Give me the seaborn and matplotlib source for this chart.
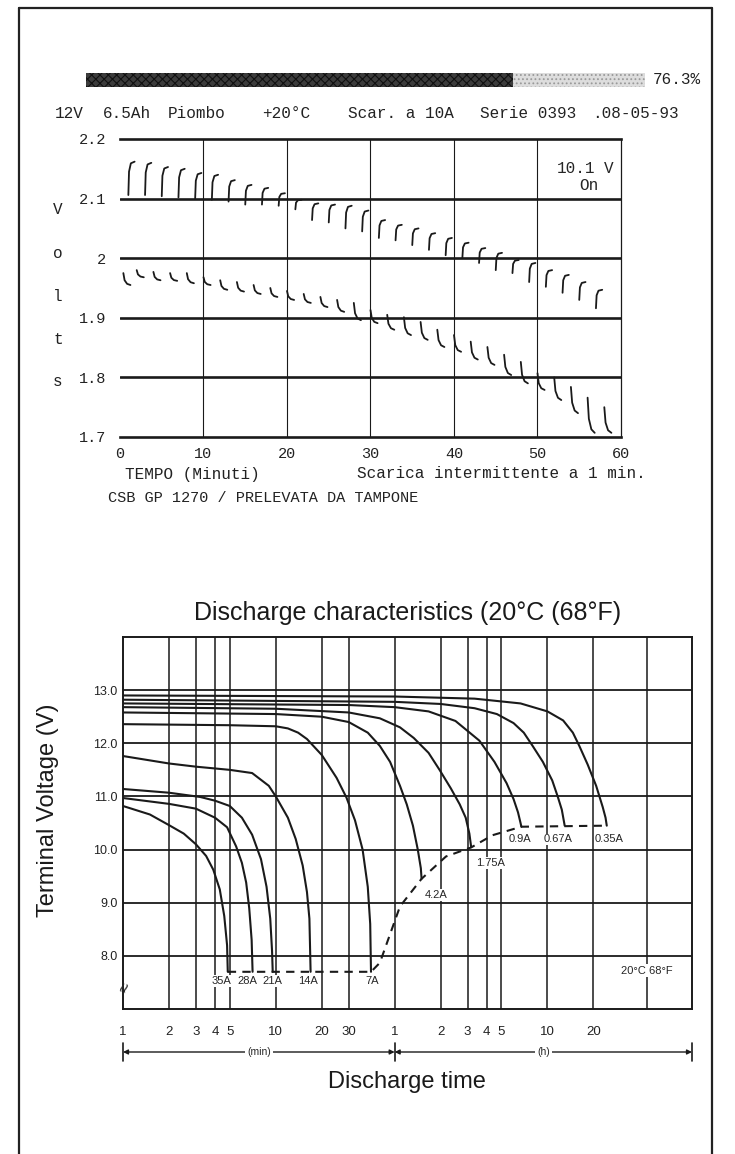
import numpy as np
import pandas as pd
import matplotlib.pyplot as plt
import seaborn as sns
from matplotlib.patches import Rectangle
from matplotlib.lines import Line2D

sns.set_theme(style="white")
plt.rcParams['font.family'] = ['Liberation Sans', 'DejaVu Sans']
MONO = ['Liberation Mono', 'DejaVu Sans Mono']

W, H = 735, 1154


def fx(x):
    return x / W


def fy(y):
    return 1 - y / H


# ---------------- top chart: intermittent discharge, 1 min on / 1 min off
header = ['12V', '6.5Ah', 'Piombo', '+20°C', 'Scar. a 10A', 'Serie 0393', '.08-05-93']
charge_pct = 76.3

# rest (off-load) recovery marks
rest_t = [1, 3, 5, 7, 9, 11, 13, 15, 17, 19, 21, 23, 25, 27, 29,
          31, 33, 35, 37, 39, 41, 43, 45, 47, 49, 51, 53, 55, 57]
rest_top = [2.162, 2.160, 2.153, 2.150, 2.143, 2.140, 2.131, 2.123, 2.118, 2.109,
            2.098, 2.092, 2.090, 2.088, 2.080, 2.064, 2.056, 2.050, 2.042, 2.034,
            2.026, 2.017, 2.009, 1.997, 1.992, 1.980, 1.972, 1.960, 1.947]
rest_bot = [2.106, 2.106, 2.104, 2.102, 2.100, 2.098, 2.095, 2.090, 2.090, 2.088,
            2.082, 2.064, 2.060, 2.050, 2.045, 2.034, 2.030, 2.022, 2.014, 2.005,
            2.000, 1.992, 1.980, 1.975, 1.960, 1.952, 1.942, 1.930, 1.916]

# on-load marks
load_t = [0.4, 2, 4, 6, 8, 10, 12, 14, 16, 18, 20, 22, 24, 26, 28,
          30, 32, 34, 36, 38, 40, 42, 44, 46, 48, 50, 52, 54, 56, 58]
load_top = [1.975, 1.980, 1.977, 1.975, 1.975, 1.968, 1.963, 1.960, 1.955, 1.950,
            1.945, 1.940, 1.935, 1.930, 1.925, 1.913, 1.905, 1.901, 1.893, 1.880,
            1.871, 1.860, 1.851, 1.838, 1.826, 1.807, 1.800, 1.784, 1.766, 1.750]
load_bot = [1.955, 1.968, 1.963, 1.962, 1.958, 1.955, 1.947, 1.944, 1.940, 1.935,
            1.930, 1.925, 1.918, 1.910, 1.896, 1.891, 1.880, 1.871, 1.863, 1.851,
            1.843, 1.830, 1.821, 1.804, 1.790, 1.779, 1.762, 1.740, 1.707, 1.707]

top_xticks = [0, 10, 20, 30, 40, 50, 60]
top_yticks = [1.7, 1.8, 1.9, 2.0, 2.1, 2.2]
top_ylabels = ['1.7', '1.8', '1.9', '2', '2.1', '2.2']

# ---------------- bottom chart: discharge characteristics
t_35A = [1, 1.5, 2, 2.5, 3, 3.5, 3.9, 4.3, 4.6, 4.8, 4.85]
v_35A = [10.82, 10.66, 10.46, 10.30, 10.10, 9.88, 9.62, 9.25, 8.75, 8.2, 7.7]
t_28A = [1, 2, 3, 4, 4.8, 5.5, 6.0, 6.4, 6.7, 6.95, 7.05]
v_28A = [10.97, 10.86, 10.77, 10.60, 10.42, 10.06, 9.75, 9.38, 8.9, 8.3, 7.7]
t_21A = [1, 2, 3.2, 4, 5, 6, 7, 8, 8.7, 9.2, 9.45, 9.55]
v_21A = [11.14, 11.07, 10.99, 10.92, 10.82, 10.60, 10.28, 9.82, 9.3, 8.7, 8.1, 7.7]
t_14A = [1, 2, 3, 5, 7, 9, 10, 12, 13.5, 15, 16, 16.6, 16.9]
v_14A = [11.76, 11.62, 11.56, 11.50, 11.44, 11.20, 11.0, 10.6, 10.2, 9.7, 9.2, 8.7, 7.7]
t_7A = [1, 5, 10, 12, 14, 16, 20, 25, 29, 33, 37, 40, 41.5, 42]
v_7A = [12.36, 12.34, 12.32, 12.28, 12.20, 12.08, 11.78, 11.35, 10.98, 10.55, 10.0, 9.3, 8.6, 7.7]
t_4A2 = [1, 10, 20, 30, 40, 48, 56, 65, 72, 79, 85, 89, 90]
v_4A2 = [12.58, 12.55, 12.50, 12.40, 12.20, 11.95, 11.65, 11.20, 10.85, 10.45, 10.0, 9.65, 9.45]
t_1A75 = [1, 10, 30, 48, 65, 80, 100, 118, 140, 160, 175, 185, 190]
v_1A75 = [12.68, 12.65, 12.58, 12.47, 12.30, 12.10, 11.82, 11.50, 11.15, 10.85, 10.6, 10.3, 10.05]
t_0A9 = [1, 30, 60, 100, 150, 215, 270, 324, 360, 385, 400, 405]
v_0A9 = [12.75, 12.72, 12.68, 12.60, 12.42, 12.05, 11.65, 11.25, 10.95, 10.7, 10.5, 10.43]
t_0A67 = [1, 60, 120, 200, 280, 360, 420, 480, 560, 645, 700, 745, 778]
v_0A67 = [12.82, 12.78, 12.74, 12.66, 12.55, 12.38, 12.20, 11.95, 11.65, 11.3, 11.0, 10.75, 10.45]
t_0A35 = [1, 60, 200, 400, 600, 760, 880, 970, 1100, 1250, 1380, 1440, 1467]
v_0A35 = [12.90, 12.88, 12.84, 12.75, 12.60, 12.43, 12.20, 11.95, 11.6, 11.2, 10.8, 10.6, 10.45]

# final-voltage (dashed) line
end_t = [4.85, 42, 48, 65, 90, 130, 190, 262, 405, 1467]
end_v = [7.7, 7.7, 7.87, 8.93, 9.45, 9.87, 10.04, 10.27, 10.43, 10.45]

current_names = ['35A', '28A', '21A', '14A', '7A', '4.2A', '1.75A', '0.9A', '0.67A', '0.35A']
label_t = [4.38, 6.56, 9.55, 16.2, 43, 112, 254, 394, 704, 1519]
label_v = [7.53, 7.53, 7.53, 7.53, 7.53, 9.15, 9.75, 10.19, 10.19, 10.19]

bot_xticks = [1, 2, 3, 4, 5, 10, 20, 30, 60, 120, 180, 240, 300, 600, 1200]
bot_xlabels = ['1', '2', '3', '4', '5', '10', '20', '30', '1', '2', '3', '4', '5', '10', '20']
bot_vgrid = [2, 3, 4, 5, 10, 20, 30, 60, 120, 180, 240, 300, 600, 1200, 2700]
bot_yticks = [8, 9, 10, 11, 12, 13]

# ---------------------------------------------------------------- figure
fig = plt.figure(figsize=(W / 100, H / 100), dpi=100)

# page frame
for xs, ys in [([19, 19], [8, H]), ([19, 712], [8, 8]), ([712, 712], [8, H])]:
    fig.add_artist(Line2D([fx(v) for v in xs], [fy(v) for v in ys], color='#222222', lw=1.6))

# charge bar
plt.rcParams['hatch.linewidth'] = 0.8
bar_x0, bar_x1 = 86, 645
bar_split = bar_x0 + (bar_x1 - bar_x0) * charge_pct / 100
fig.add_artist(Rectangle((fx(bar_x0), fy(87)), (bar_split - bar_x0) / W, 14 / H,
                         facecolor='#3c3c3c', edgecolor='#111111', hatch='xxxx', lw=0))
fig.add_artist(Rectangle((fx(bar_split), fy(87)), (bar_x1 - bar_split) / W, 14 / H,
                         facecolor='#dddddd', edgecolor='#999999', hatch='....', lw=0))
fig.text(fx(653), fy(80), f'{charge_pct}%', family=MONO, fontsize=11.5, va='center', color='#222222')

header_x = [55, 103, 168, 262, 348, 480, 592]
for s, x in zip(header, header_x):
    fig.text(fx(x), fy(113), s, family=MONO, fontsize=11.5, va='center', color='#222222')

# top axes
ax1 = fig.add_axes([fx(120), fy(437), (621 - 120) / W, (437 - 139) / H])
rows = []
for i, (t, top, bot) in enumerate(zip(rest_t, rest_top, rest_bot)):
    h = top - bot
    for dx, f in [(0, 0), (0.08, 0.7), (0.3, 0.95), (0.75, 1.0)]:
        rows.append(dict(hook=f'r{i}', t=t + dx, v=bot + f * h))
for i, (t, top, bot) in enumerate(zip(load_t, load_top, load_bot)):
    h = top - bot
    for dx, f in [(0, 0), (0.15, 0.6), (0.45, 0.9), (0.85, 1.0)]:
        rows.append(dict(hook=f'l{i}', t=t + dx, v=top - f * h))
hooks = pd.DataFrame(rows)
sns.lineplot(data=hooks, x='t', y='v', units='hook', estimator=None, sort=False,
             color='#1a1a1a', lw=1.3, ax=ax1)
ax1.set_xlim(0, 60)
ax1.set_ylim(1.7, 2.2)
for y in top_yticks[1:-1]:
    ax1.axhline(y, color='#1a1a1a', lw=1.9, zorder=1)
for x in top_xticks[1:-1]:
    ax1.axvline(x, color='#1a1a1a', lw=0.8, zorder=1)
ax1.spines['left'].set_visible(False)
ax1.spines['top'].set_linewidth(1.9)
ax1.spines['bottom'].set_linewidth(1.9)
ax1.spines['right'].set_linewidth(0.9)
for sp in ax1.spines.values():
    sp.set_color('#1a1a1a')
ax1.set_xticks(top_xticks)
ax1.set_xticklabels([str(v) for v in top_xticks], family=MONO, fontsize=11)
ax1.set_yticks(top_yticks)
ax1.set_yticklabels(top_ylabels, family=MONO, fontsize=11)
ax1.tick_params(length=0, colors='#222222')
ax1.tick_params(axis='x', pad=7)
ax1.tick_params(axis='y', pad=10)
ax1.set_xlabel('')
ax1.set_ylabel('')
ax1.text(0.91, 0.9, '10.1', transform=ax1.transAxes, family=MONO, fontsize=11.5, ha='center', va='center')
ax1.text(0.975, 0.9, 'V', transform=ax1.transAxes, family=MONO, fontsize=11.5, ha='center', va='center')
ax1.text(0.935, 0.845, 'On', transform=ax1.transAxes, family=MONO, fontsize=11.5, ha='center', va='center')

for ch, y in zip('Volts', [210, 253, 296, 339, 382]):
    fig.text(fx(58), fy(y), ch, family=MONO, fontsize=11.5, ha='center', va='center', color='#222222')
fig.text(fx(125), fy(474), 'TEMPO (Minuti)', family=MONO, fontsize=11.5, va='center', color='#222222')
fig.text(fx(357), fy(474), 'Scarica intermittente a 1 min.', family=MONO, fontsize=11.5, va='center', color='#222222')
fig.text(fx(108), fy(498), 'CSB GP 1270 / PRELEVATA DA TAMPONE', family=MONO, fontsize=11, va='center', color='#222222')

# bottom axes
ax2 = fig.add_axes([fx(123), fy(1009), (692 - 123) / W, (1009 - 637) / H])
curves = [(t_35A, v_35A), (t_28A, v_28A), (t_21A, v_21A), (t_14A, v_14A), (t_7A, v_7A),
          (t_4A2, v_4A2), (t_1A75, v_1A75), (t_0A9, v_0A9), (t_0A67, v_0A67), (t_0A35, v_0A35)]
df = pd.concat([pd.DataFrame({'t': t, 'V': v, 'current': name})
                for name, (t, v) in zip(current_names, curves)], ignore_index=True)
sns.lineplot(data=df, x='t', y='V', units='current', estimator=None, sort=False,
             color='#1a1a1a', lw=1.5, ax=ax2, zorder=3)
sns.lineplot(x=end_t, y=end_v, color='#1a1a1a', lw=1.5, linestyle=(0, (4, 3)),
             estimator=None, sort=False, ax=ax2, zorder=3)
ax2.set_xscale('log')
ax2.set_xlim(1, 5300)
ax2.set_ylim(7, 14)
for x in bot_vgrid:
    ax2.axvline(x, color='#1a1a1a', lw=1.1, zorder=1)
for y in bot_yticks:
    ax2.axhline(y, color='#1a1a1a', lw=1.3, zorder=1)
for sp in ax2.spines.values():
    sp.set_linewidth(1.4)
    sp.set_color('#1a1a1a')
ax2.set_xticks(bot_xticks)
ax2.set_xticklabels(bot_xlabels, fontsize=9.5)
ax2.minorticks_off()
ax2.set_yticks(bot_yticks)
ax2.set_yticklabels([f'{v:.1f}' for v in bot_yticks], fontsize=9)
ax2.tick_params(length=0, colors='#222222')
ax2.tick_params(axis='x', pad=12)
ax2.tick_params(axis='y', pad=4)
ax2.set_xlabel('')
ax2.set_ylabel('')

for name, t, v in zip(current_names, label_t, label_v):
    ax2.text(t, v, name, fontsize=8, ha='center', va='center', zorder=4,
             bbox=dict(facecolor='white', edgecolor='none', pad=0.6))
ax2.text(2700, 7.72, '20°C 68°F', fontsize=8, ha='center', va='center', zorder=4,
         bbox=dict(facecolor='white', edgecolor='none', pad=1))
ax2.text(1.05, 7.4, '≈', fontsize=13, rotation=70, ha='center', va='center', zorder=4)

ax2.set_title('Discharge characteristics (20°C (68°F)', fontsize=18, pad=12, color='#1a1a1a')
fig.text(fx(48), fy(810), 'Terminal Voltage (V)', fontsize=17, rotation=90,
         ha='center', va='center', color='#1a1a1a')
fig.text(fx(407), fy(1082), 'Discharge time', fontsize=17, ha='center', va='center', color='#1a1a1a')

# min / h span arrows under the axis
tr = ax2.get_xaxis_transform()
ya = -(1052 - 1009) / (1009 - 637)
for a, b, lab in [(1, 60, '(min)'), (60, 5300, '(h)')]:
    ax2.annotate('', xy=(a, ya), xytext=(b, ya), xycoords=tr, annotation_clip=False,
                 arrowprops=dict(arrowstyle='<|-|>', color='#1a1a1a', lw=1,
                                 mutation_scale=7, shrinkA=0, shrinkB=0))
    ax2.text(np.sqrt(a * b), ya, lab, transform=tr, fontsize=7.5, ha='center', va='center',
             bbox=dict(facecolor='white', edgecolor='none', pad=1.5), clip_on=False)
for x in [1, 60, 5300]:
    ax2.plot([x, x], [ya - 0.025, ya + 0.025], transform=tr, color='#1a1a1a', lw=1.2, clip_on=False)

fig.savefig('out.png', dpi=100)
